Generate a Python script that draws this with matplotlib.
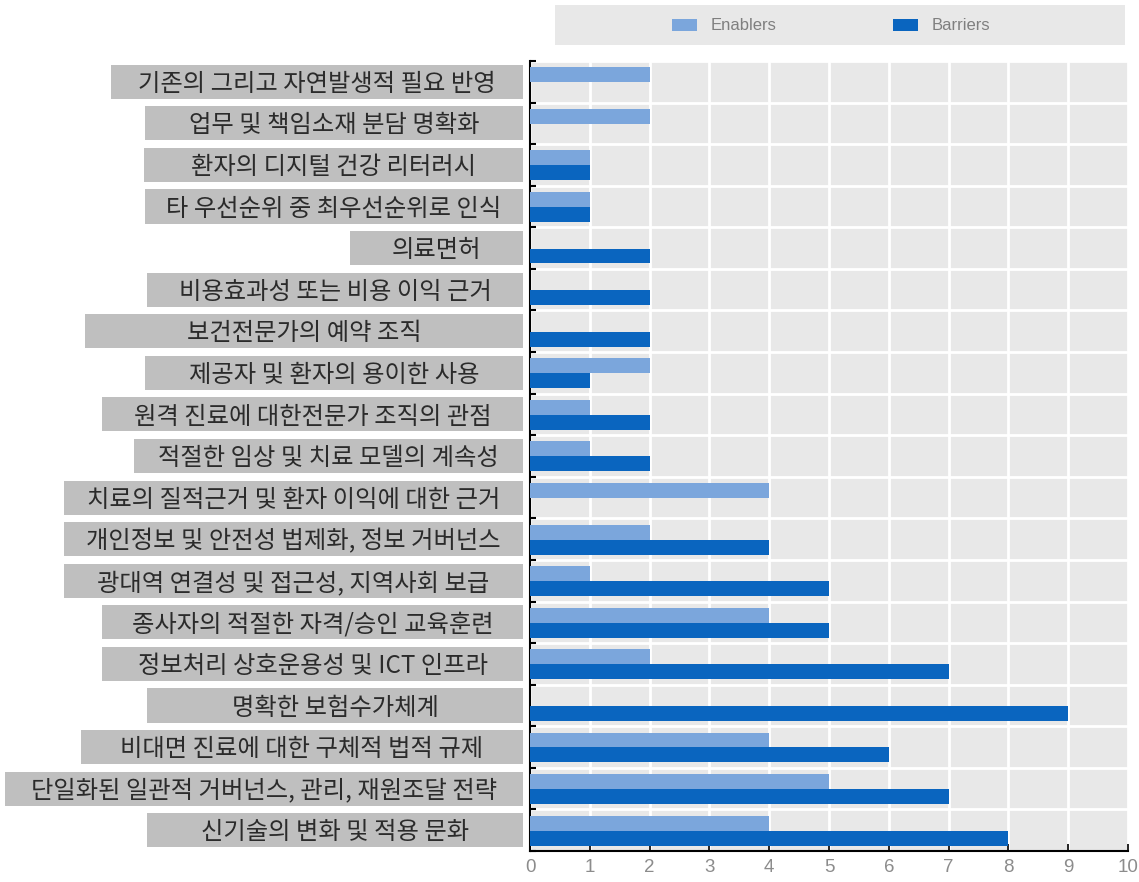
import matplotlib
matplotlib.use("Agg")
import matplotlib.pyplot as plt
from matplotlib.patches import Rectangle, Patch
from matplotlib.transforms import blended_transform_factory
import numpy as np

plt.rcParams['font.family'] = ['Noto Sans CJK KR', 'DejaVu Sans']

categories = [
    "기존의 그리고 자연발생적 필요 반영",
    "업무 및 책임소재 분담 명확화",
    "환자의 디지털 건강 리터러시",
    "타 우선순위 중 최우선순위로 인식",
    "의료면허",
    "비용효과성 또는 비용 이익 근거",
    "보건전문가의 예약 조직",
    "제공자 및 환자의 용이한 사용",
    "원격 진료에 대한전문가 조직의 관점",
    "적절한 임상 및 치료 모델의 계속성",
    "치료의 질적근거 및 환자 이익에 대한 근거",
    "개인정보 및 안전성 법제화, 정보 거버넌스",
    "광대역 연결성 및 접근성, 지역사회 보급",
    "종사자의 적절한 자격/승인 교육훈련",
    "정보처리 상호운용성 및 ICT 인프라",
    "명확한 보험수가체계",
    "비대면 진료에 대한 구체적 법적 규제",
    "단일화된 일관적 거버넌스, 관리, 재원조달 전략",
    "신기술의 변화 및 적용 문화",
]
enablers = [2, 2, 1, 1, 0, 0, 0, 2, 1, 1, 4, 2, 1, 4, 2, 0, 4, 5, 4]
barriers = [0, 0, 1, 1, 2, 2, 2, 1, 2, 2, 0, 4, 5, 5, 7, 9, 6, 7, 8]
x_ticks = list(range(0, 11))

# left edge (px) of the grey label boxes
box_left_px = [111, 145, 144, 145, 350, 147, 85, 145, 102, 134,
               64, 64, 64, 102, 102, 147, 81, 5, 147]

W, H = 1139, 882
light = '#7ba6dc'
dark = '#0a65bf'
narrow = ['Liberation Sans', 'DejaVu Sans']

fig = plt.figure(figsize=(W / 100, H / 100), dpi=100)
ax = fig.add_axes([530 / W, (H - 851) / H, 598 / W, 790 / H])
ax.set_facecolor('#e8e8e8')

y = np.arange(len(categories))
ax.barh(y - 0.17, enablers, height=0.36, color=light, zorder=3)
ax.barh(y + 0.19, barriers, height=0.36, color=dark, zorder=3)

ax.set_xlim(0, 10)
ax.set_ylim(len(categories) - 0.5, -0.5)
ax.set_xticks(x_ticks)
ax.set_xticklabels([str(t) for t in x_ticks], family=narrow, fontsize=13.5, color='#8c8c8c')
ax.set_yticks(np.arange(len(categories) + 1) - 0.5)
ax.set_yticklabels([])
ax.tick_params(axis='x', direction='in', length=5, width=1.2, color='black', pad=6)
ax.tick_params(axis='y', direction='in', length=4, width=1.5, color='black')
ax.grid(True, color='white', linewidth=2, zorder=0)
ax.set_axisbelow(True)
for s in ['top', 'right']:
    ax.spines[s].set_visible(False)
for s in ['left', 'bottom']:
    ax.spines[s].set_color('black')
    ax.spines[s].set_linewidth(1.5)

# grey label boxes
tr = blended_transform_factory(fig.transFigure, ax.transData)
right_px = 523
for i, (lab, left) in enumerate(zip(categories, box_left_px)):
    x0 = left / W
    x1 = right_px / W
    ax.add_patch(Rectangle((x0, i - 0.41), x1 - x0, 0.82, transform=tr,
                           facecolor='#bfbfbf', edgecolor='none', clip_on=False))
    ax.text((x0 + x1) / 2, i + 0.05, lab, transform=tr, ha='center', va='center',
            fontsize=17.5, color='#2b2b2b', clip_on=False)

# legend
fig.patches.append(Rectangle((555 / W, 1 - 45 / H), 570 / W, 40 / H,
                             transform=fig.transFigure, facecolor='#e8e8e8',
                             edgecolor='none'))
handles = [Patch(facecolor=light, label='Enablers'), Patch(facecolor=dark, label='Barriers')]
leg = fig.legend(handles=handles, loc='center', bbox_to_anchor=(831 / W, 1 - 26 / H),
                 ncol=2, frameon=False, handlelength=1.5, handleheight=0.7,
                 handletextpad=0.8, columnspacing=7,
                 prop={'family': narrow, 'size': 12})
for t in leg.get_texts():
    t.set_color('#7f7f7f')

fig.savefig('out.png', dpi=100)
